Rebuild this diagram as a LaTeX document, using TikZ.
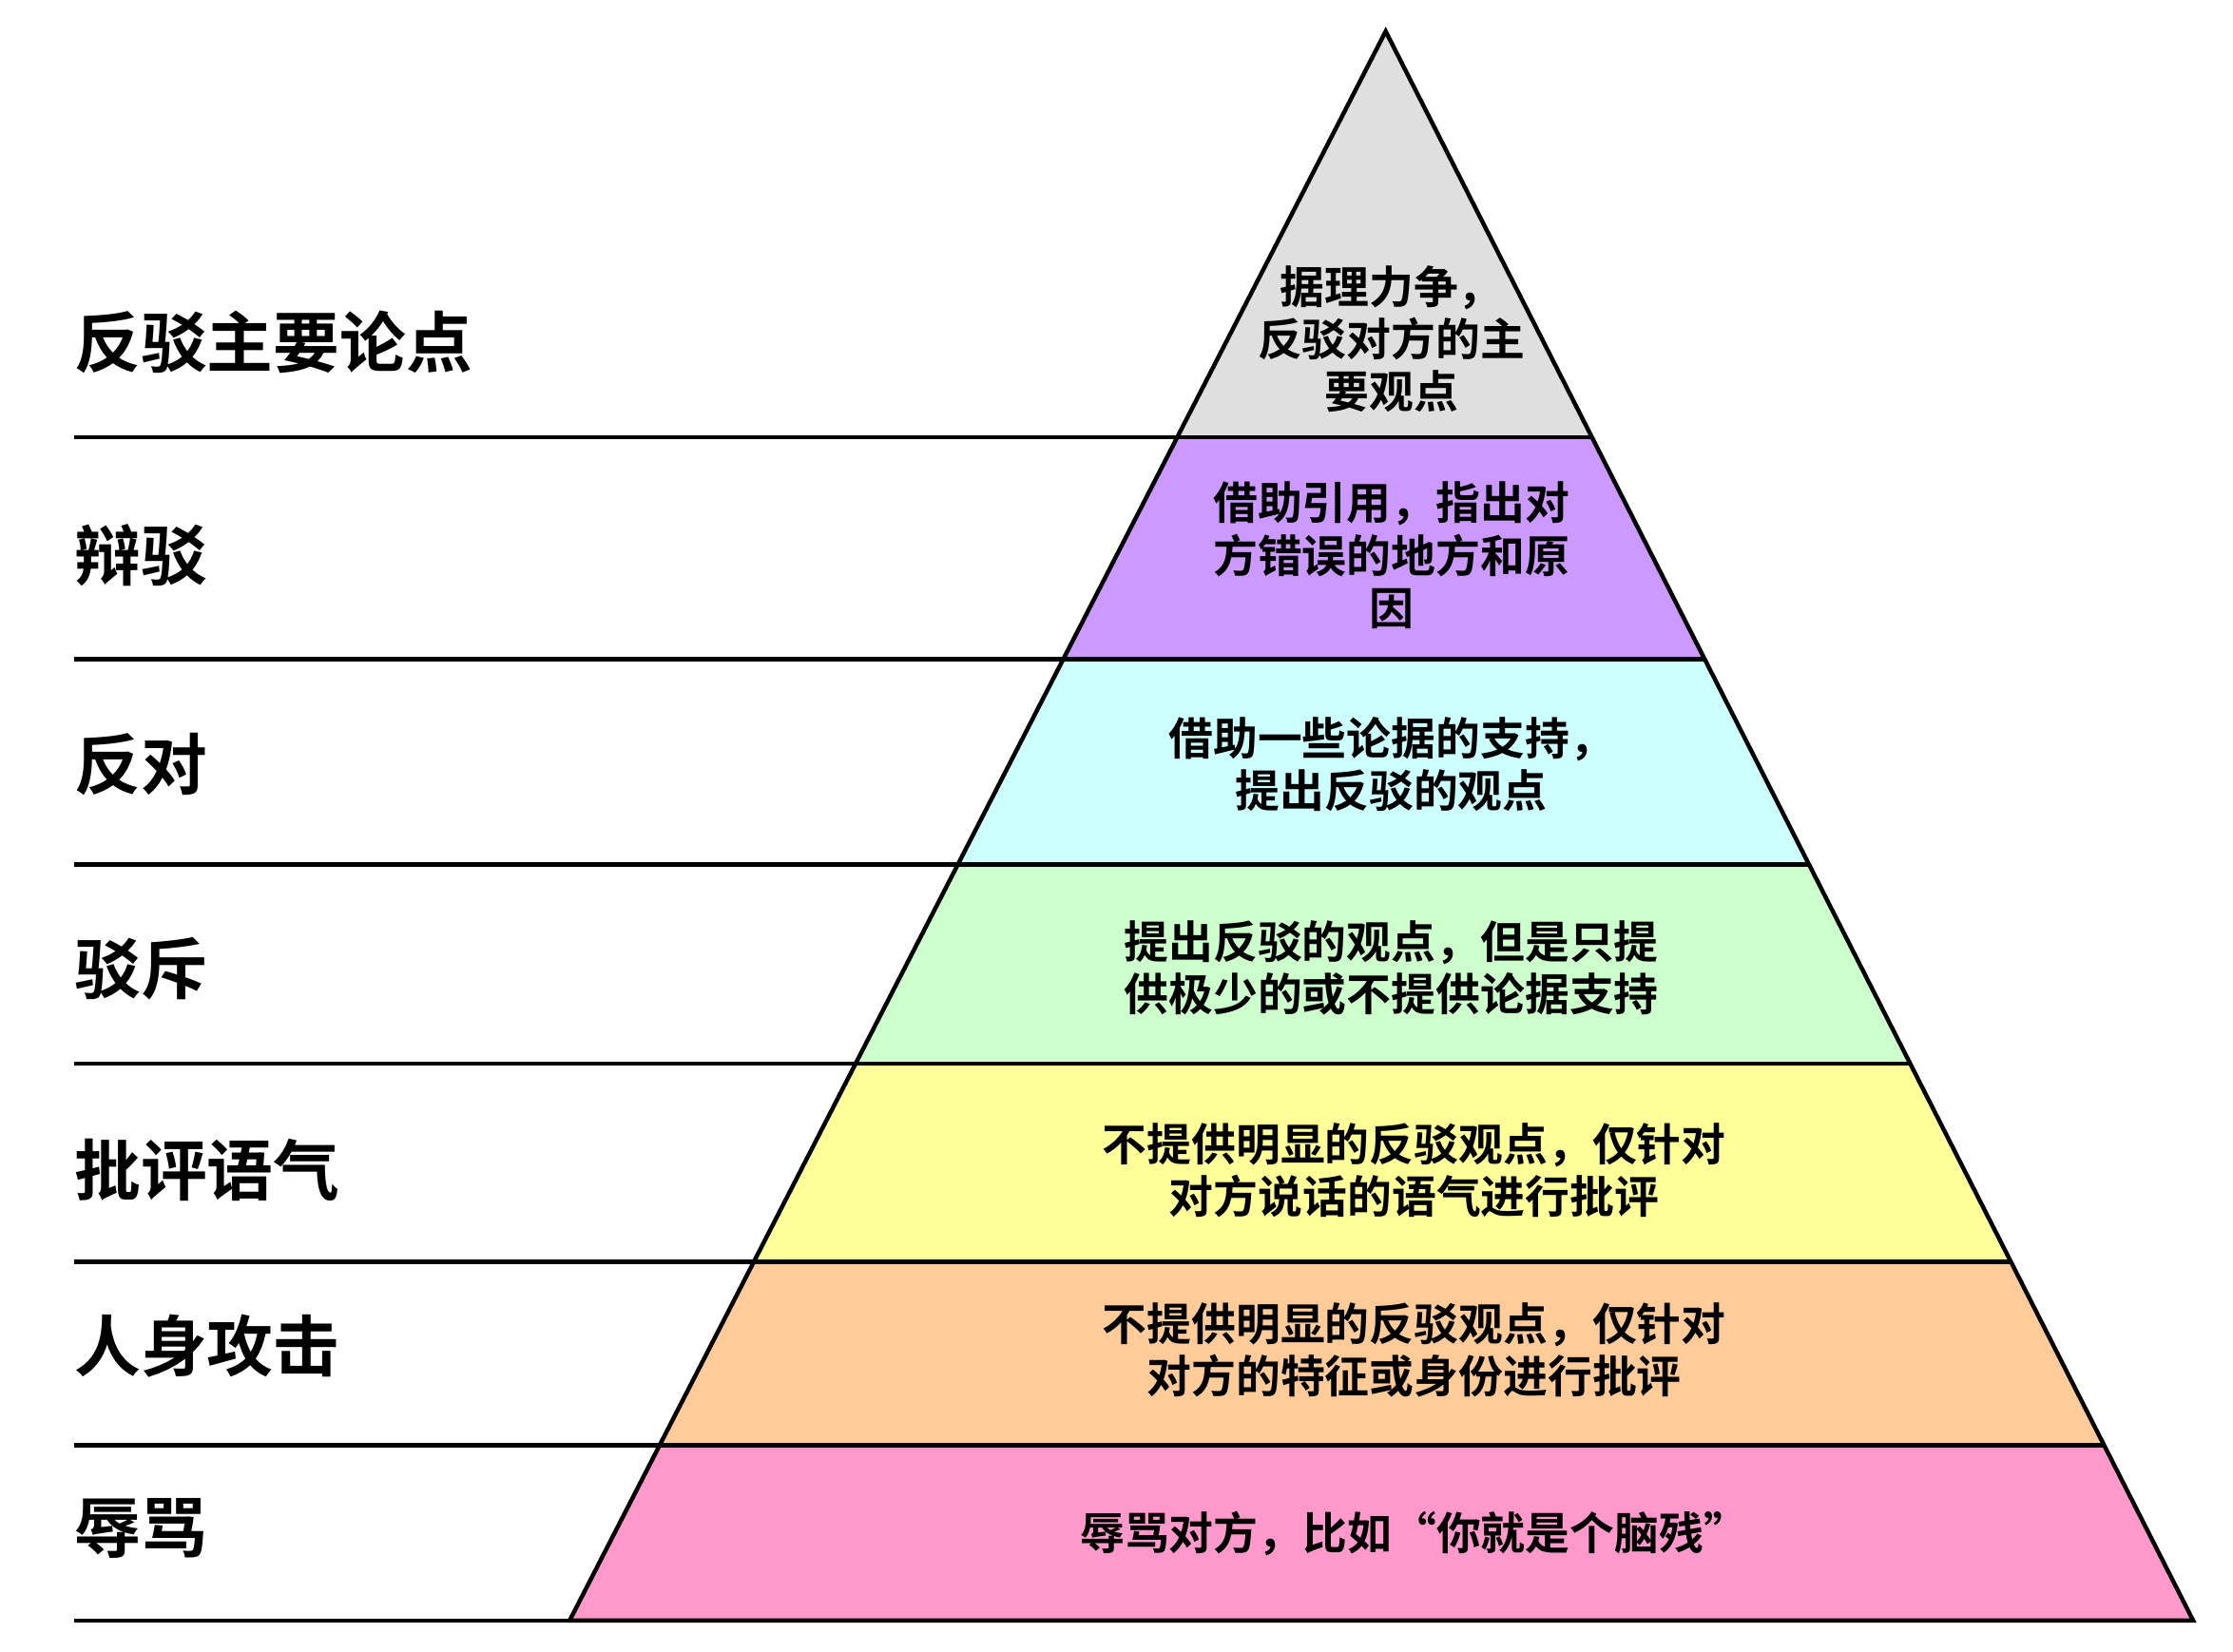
\documentclass[tikz,border=0pt]{standalone}
\usepackage{fontspec}
\setmainfont{Noto Sans CJK SC Bold}
\begin{document}
\begin{tikzpicture}[x=0.02cm,y=-0.02cm,
  lab/.style={anchor=west,font=\fontsize{26.5}{30}\selectfont,inner sep=0},
  txt/.style={align=center,font=\fontsize{17.8}{21}\selectfont,inner sep=0},
  ln/.style={line width=1.7pt}]
\useasboundingbox (0,0) rectangle (1568,1160);
\coordinate (A) at (973,22);
\coordinate (BL) at (400,1138);
\coordinate (BR) at (1540,1138);
\begin{scope}
\clip (A) -- (BL) -- (BR) -- cycle;
\fill[gray!25] (0,0) rectangle (1568,307);
\fill[fill={rgb,255:red,204;green,153;blue,255}] (0,307) rectangle (1568,463);
\fill[fill={rgb,255:red,204;green,255;blue,255}] (0,463) rectangle (1568,607);
\fill[fill={rgb,255:red,204;green,255;blue,204}] (0,607) rectangle (1568,747);
\fill[fill={rgb,255:red,255;green,255;blue,153}] (0,747) rectangle (1568,886);
\fill[fill={rgb,255:red,255;green,204;blue,153}] (0,886) rectangle (1568,1015);
\fill[fill={rgb,255:red,255;green,153;blue,204}] (0,1015) rectangle (1568,1138);
\end{scope}
\draw[ln,line join=miter] (A) -- (BL) -- (BR) -- cycle;
\foreach \y/\r in {307/1118,463/1197,607/1270,747/1341,886/1412,1015/1478,1138/1540}
  \draw[ln] (52,\y) -- (\r,\y);
\node[lab] (l1) at (52,240) {反驳主要论点};
\node[lab] (l2) at (52,390) {辩驳};
\node[lab] (l3) at (52,537) {反对};
\node[lab] (l4) at (52,680) {驳斥};
\node[lab] (l5) at (52,822) {批评语气};
\node[lab] (l6) at (52,945) {人身攻击};
\node[lab] (l7) at (52,1073) {辱骂};
\node[txt] (t1) at (977,238) {据理力争，\\反驳对方的主\\要观点};
\node[txt] (t2) at (977,390) {借助引用，指出对\\方错误的地方和原\\因};
\node[txt] (t3) at (977,537) {借助一些论据的支持，\\提出反驳的观点};
\node[txt] (t4) at (977,680) {提出反驳的观点，但是只提\\供极少的或不提供论据支持};
\node[txt] (t5) at (993,822) {不提供明显的反驳观点，仅针对\\对方说话的语气进行批评};
\node[txt] (t6) at (993,948) {不提供明显的反驳观点，仅针对\\对方的特征或身份进行批评};
\node[txt] (t7) at (993,1077) {辱骂对方，比如“你就是个脑残”};
\end{tikzpicture}
\end{document}
